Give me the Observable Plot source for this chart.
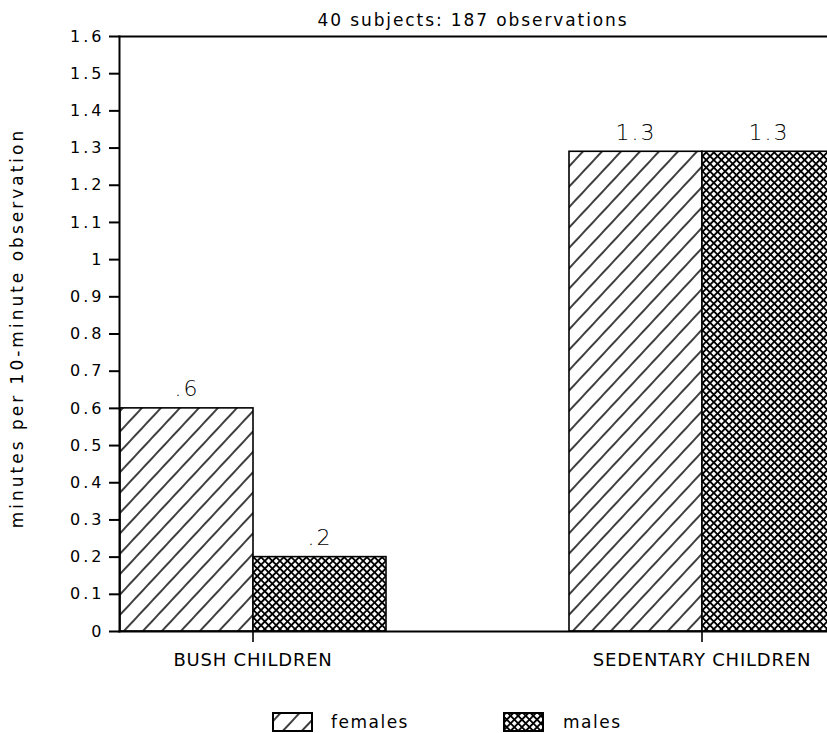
<!DOCTYPE html>
<html>
<head>
<meta charset="utf-8">
<script src="https://cdn.jsdelivr.net/npm/d3@7"></script>
<script src="https://cdn.jsdelivr.net/npm/@observablehq/plot@0.6"></script>
<style>
  html, body { margin: 0; padding: 0; background: #fff; overflow: hidden; width: 827px; height: 733px; }
  body { font-family: "DejaVu Sans", sans-serif; color: #000; }
  #title { height: 20px; box-sizing: border-box; padding-top: 12px; padding-left: 119px; width: 827px;
           line-height: 17px; font-size: 17px; letter-spacing: 1.9px; text-align: center; white-space: nowrap; overflow: visible; }
  #chart { width: 827px; overflow: hidden; height: 661px; }
  #chart svg { max-width: none !important; }
  #legend { position: relative; width: 827px; height: 52px; font-size: 17px; letter-spacing: 1.5px; }
  #legend .sw { position: absolute; top: 31px; }
  #legend .lt { position: absolute; top: 33px; line-height: 17px; white-space: nowrap; }
  [aria-label="y-axis tick label"] text { letter-spacing: 3px; }
  [aria-label="fx-axis tick label"] text { letter-spacing: 0.8px; }
  g[aria-label="text"] text { letter-spacing: 2px; }
  g[aria-label="text"] text[transform*="rotate"] { letter-spacing: 3px; }
</style>
</head>
<body>
<svg width="0" height="0" style="position:absolute">
  <defs>
    <pattern id="hatchF" patternUnits="userSpaceOnUse" width="13.9" height="10" patternTransform="rotate(43)">
      <rect width="13.9" height="10" fill="#fff"/>
      <path d="M6.95,-1V11" stroke="#000" stroke-width="1.5"/>
    </pattern>
    <pattern id="crossM" patternUnits="userSpaceOnUse" width="5.35" height="5.35" patternTransform="rotate(45)">
      <rect width="5.35" height="5.35" fill="#fff"/>
      <path d="M-1,2.675H6.35M2.675,-1V6.35" stroke="#000" stroke-width="1.9"/>
    </pattern>
  </defs>
</svg>
<div id="title"></div>
<div id="chart"></div>
<div id="legend"></div>
<script>
const titleText = "40 subjects: 187 observations";
const yLabel = "minutes per 10-minute observation";
const groups = ["BUSH CHILDREN", "SEDENTARY CHILDREN"];
const sexes = ["females", "males"];
const femaleValues = [0.6, 1.29];
const maleValues = [0.2, 1.29];
const femaleLabels = [".6", "1.3"];
const maleLabels = [".2", "1.3"];
const yTicks = [0, 0.1, 0.2, 0.3, 0.4, 0.5, 0.6, 0.7, 0.8, 0.9, 1, 1.1, 1.2, 1.3, 1.4, 1.5, 1.6];
const patterns = ["url(#hatchF)", "url(#crossM)"];

document.getElementById("title").textContent = titleText;

const data = [];
groups.forEach((g, i) => {
  data.push({group: g, sex: sexes[0], value: femaleValues[i], label: femaleLabels[i]});
  data.push({group: g, sex: sexes[1], value: maleValues[i], label: maleLabels[i]});
});

const fmt = d => `${+(+d).toFixed(1)}`;

const chart = Plot.plot({
  width: 836,
  height: 661,
  marginLeft: 119,
  marginRight: 0,
  marginTop: 16,
  marginBottom: 50,
  style: {fontFamily: '"DejaVu Sans", sans-serif', background: "white", color: "black", maxWidth: "none"},
  fx: {domain: groups, paddingInner: 0.4044, paddingOuter: 0, label: null},
  x: {domain: sexes, padding: 0, axis: null},
  y: {domain: [0, 1.6], axis: null},
  color: {domain: sexes, range: patterns},
  marks: [
    Plot.barY(data, {fx: "group", x: "sex", y: "value", fill: "sex", stroke: "black", strokeWidth: 1.6}),
    Plot.frame({anchor: "top", facet: "super", stroke: "black", strokeWidth: 2}),
    Plot.frame({anchor: "bottom", facet: "super", stroke: "black", strokeWidth: 2}),
    Plot.frame({anchor: "left", facet: "super", stroke: "black", strokeWidth: 2}),
    Plot.axisY({ticks: yTicks, tickFormat: fmt, tickSize: 10, tickPadding: 5, fontSize: 16, stroke: "black", strokeWidth: 2, fill: "black", label: null}),
    Plot.axisFx({anchor: "bottom", tickSize: 11, tickPadding: 11, fontSize: 18, stroke: "black", strokeWidth: 1.6, fill: "black", label: null}),
    Plot.text(data, {fx: "group", x: "sex", y: "value", text: "label", dy: -12, lineAnchor: "bottom", fontSize: 22, fontWeight: 200, fill: "black"}),
    Plot.text([yLabel], {facet: "super", frameAnchor: "left", textAnchor: "middle", lineAnchor: "middle", text: d => d, dx: -102, dy: -6, rotate: -90, fontSize: 17, fill: "black"})
  ]
});
chart.style.maxWidth = "none";
document.getElementById("chart").appendChild(chart);

// legend
const legend = document.getElementById("legend");
const swatchX = [272, 503];
const textX = [331, 563];
sexes.forEach((s, i) => {
  const ns = "http://www.w3.org/2000/svg";
  const sw = document.createElementNS(ns, "svg");
  sw.setAttribute("class", "sw");
  sw.setAttribute("width", 41);
  sw.setAttribute("height", 20);
  sw.style.left = swatchX[i] + "px";
  const r = document.createElementNS(ns, "rect");
  r.setAttribute("x", 1); r.setAttribute("y", 1);
  r.setAttribute("width", 39); r.setAttribute("height", 18);
  r.setAttribute("fill", patterns[i]);
  r.setAttribute("stroke", "#000");
  r.setAttribute("stroke-width", 2);
  sw.appendChild(r);
  legend.appendChild(sw);
  const t = document.createElement("span");
  t.className = "lt";
  t.style.left = textX[i] + "px";
  t.textContent = s;
  legend.appendChild(t);
});
</script>
</body>
</html>
